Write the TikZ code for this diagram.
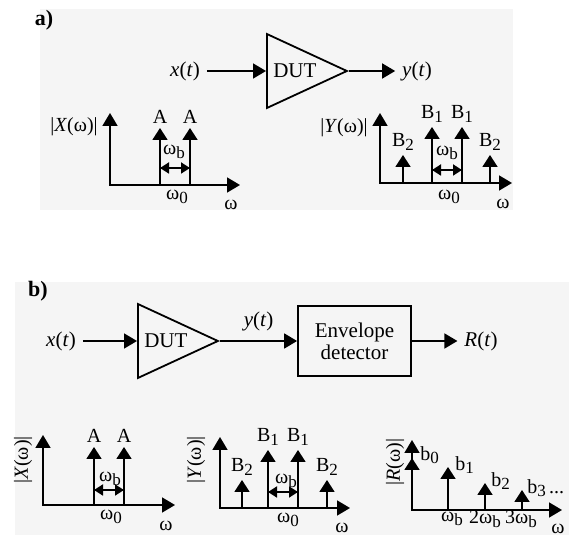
\documentclass[tikz,border=0pt]{standalone}
\usepackage{fontspec}
\setmainfont{Liberation Serif}
\usetikzlibrary{arrows.meta,shapes.geometric,positioning}
\newcommand{\dn}[1]{\raisebox{-1.8pt}{\fontsize{8.5}{9}\selectfont #1}}
\tikzset{
  sig/.style={-{Triangle[length=6.5pt,width=7.5pt]}, line width=0.9pt},
  imp/.style={-{Triangle[length=6pt,width=7.5pt]}, line width=0.9pt},
  axes/.style={{Triangle[length=6.5pt,width=7.5pt]}-{Triangle[length=6.5pt,width=7.5pt]}, line width=0.9pt},
  gap/.style={{Triangle[length=4.5pt,width=5.5pt]}-{Triangle[length=4.5pt,width=5.5pt]}, line width=0.9pt},
  lbl/.style={inner sep=0pt, font=\fontsize{10}{11}\selectfont},
  blk/.style={font=\fontsize{10.5}{11}\selectfont},
  amp/.style={isosceles triangle, isosceles triangle stretches, draw, line width=0.9pt,
    inner sep=0pt, minimum width=37pt, minimum height=40pt, blk},
  part/.style={font=\bfseries\fontsize{11}{12}\selectfont}
}
\begin{document}
\begin{tikzpicture}[x=0.5pt, y=-0.5pt]
\useasboundingbox (0,0) rectangle (569,535);
\fill[black!4] (40,9) rectangle (513,210);
\fill[black!4] (15,282) rectangle (569,535);

% a)
\node[part] (la) at (44,20) {a)};
\node[amp, anchor=lower side] (duta) at (266,71) {DUT};
\node[blk] (xa) at (185,71) {\textit{x}(\textit{t})};
\node[blk] (ya) at (417,71) {\textit{y}(\textit{t})};
\draw[sig] (xa) -- (duta.lower side);
\draw[sig] (duta.apex) -- (ya);

\draw[axes] (110,113) -- (110,185) -- (240,185);
\draw[imp] (160,185) -- (160,128) node[lbl, above=2pt] (aXA1) {A};
\draw[imp] (190,185) -- (190,128) node[lbl, above=2pt] (aXA2) {A};
\draw[gap] (160,168) -- (190,168);
\node[lbl] (aXwb) at (174,152) {ω\dn{b}};
\node[lbl] (aXw0) at (177,197) {ω\dn{0}};
\node[lbl] (aXw) at (231,205) {ω};
\node[lbl] (aXmag) at (74,127) {|\textit{X}(ω)|};

\draw[axes] (380,113) -- (380,183) -- (512,183);
\draw[imp] (403,183) -- (403,155) node[lbl, above=2pt] (aYB2l) {B\dn{2}};
\draw[imp] (432,183) -- (432,127) node[lbl, above=2pt] (aYB1l) {B\dn{1}};
\draw[imp] (462,183) -- (462,127) node[lbl, above=2pt] (aYB1r) {B\dn{1}};
\draw[imp] (490,183) -- (490,155) node[lbl, above=2pt] (aYB2r) {B\dn{2}};
\draw[gap] (432,170) -- (462,170);
\node[lbl] (aYwb) at (447,153) {ω\dn{b}};
\node[lbl] (aYw0) at (449,197) {ω\dn{0}};
\node[lbl] (aYw) at (503,204) {ω};
\node[lbl] (aYmag) at (344,128) {|\textit{Y}(ω)|};

% b)
\node[part] (lb) at (38,291) {b)};
\node[amp, anchor=lower side] (dutb) at (137,341) {DUT};
\node[blk] (xb) at (61,341) {\textit{x}(\textit{t})};
\node[blk, draw, line width=0.9pt, minimum width=56.5pt, minimum height=35pt,
  align=center] (env) at (354.5,341) {Envelope\\detector};
\node[blk] (rb) at (481,341) {\textit{R}(\textit{t})};
\draw[sig] (xb) -- (dutb.lower side);
\draw[sig] (dutb.apex) -- node[blk, above=1pt] (yb) {\textit{y}(\textit{t})} (env);
\draw[sig] (env) -- (rb);

\draw[axes] (43,435) -- (43,505) -- (175,505);
\draw[imp] (94,505) -- (94,447) node[lbl, above=2pt] (bXA1) {A};
\draw[imp] (124,505) -- (124,447) node[lbl, above=2pt] (bXA2) {A};
\draw[gap] (94,490) -- (124,490);
\node[lbl] (bXwb) at (110,479) {ω\dn{b}};
\node[lbl] (bXw0) at (111,517) {ω\dn{0}};
\node[lbl] (bXw) at (166,526) {ω};
\node[lbl, rotate=90] (bXmag) at (23,460) {|\textit{X}(ω)|};

\draw[axes] (220,437) -- (220,508) -- (350,508);
\draw[imp] (242,508) -- (242,480) node[lbl, above=2pt] (bYB2l) {B\dn{2}};
\draw[imp] (268,508) -- (268,450) node[lbl, above=2pt] (bYB1l) {B\dn{1}};
\draw[imp] (298,508) -- (298,450) node[lbl, above=2pt] (bYB1r) {B\dn{1}};
\draw[imp] (327,508) -- (327,480) node[lbl, above=2pt] (bYB2r) {B\dn{2}};
\draw[gap] (268,492) -- (298,492);
\node[lbl] (bYwb) at (286,481) {ω\dn{b}};
\node[lbl] (bYw0) at (288,520) {ω\dn{0}};
\node[lbl] (bYw) at (342,528) {ω};
\node[lbl, rotate=90] (bYmag) at (196,460) {|\textit{Y}(ω)|};

\draw[axes] (412,440) -- (412,510) -- (562,510);
\draw[imp] (412,510) -- (412,458);
\draw[imp] (448,510) -- (448,467);
\draw[imp] (485,510) -- (485,483);
\draw[imp] (522,510) -- (522,490);
\node[lbl, anchor=west] (bR0) at (420,455) {b\dn{0}};
\node[lbl, anchor=west] (bR1) at (455,465) {b\dn{1}};
\node[lbl, anchor=west] (bR2) at (491,481) {b\dn{2}};
\node[lbl, anchor=west] (bR3) at (527,488) {b\dn{3}\,...};
\node[lbl] (bRw1) at (452,519) {ω\dn{b}};
\node[lbl] (bRw2) at (485,519) {2ω\dn{b}};
\node[lbl] (bRw3) at (521,519) {3ω\dn{b}};
\node[lbl] (bRw) at (558,529) {ω};
\node[lbl, rotate=90] (bRmag) at (395,462) {|\textit{R}(ω)|};
\end{tikzpicture}
\end{document}
